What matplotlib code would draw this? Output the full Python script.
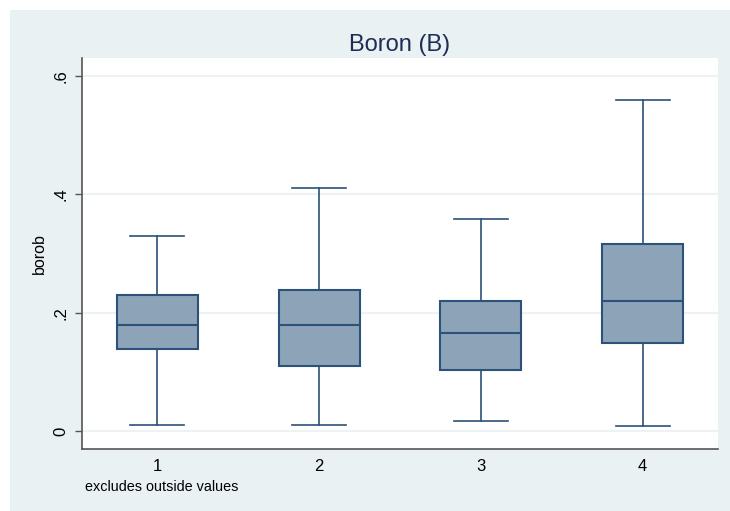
import matplotlib.pyplot as plt
from matplotlib.patches import Rectangle

plt.rcParams['font.family'] = ['Liberation Sans', 'DejaVu Sans']

# boron concentration by group
groups = [1, 2, 3, 4]
whislo = [0.010, 0.010, 0.017, 0.008]
q1 = [0.139, 0.109, 0.103, 0.148]
med = [0.179, 0.179, 0.166, 0.220]
q3 = [0.230, 0.239, 0.220, 0.316]
whishi = [0.330, 0.410, 0.358, 0.560]

stats = [dict(whislo=lo, q1=a, med=m, q3=b, whishi=hi, label=str(g))
         for g, lo, a, m, b, hi in zip(groups, whislo, q1, med, q3, whishi)]

bg = '#eaf1f3'
edge = '#2c5279'
fill = '#8da4b8'

fig = plt.figure(figsize=(7.3, 5.11), dpi=100, facecolor='white')
fig.patches.append(Rectangle((10 / 730, 0), 1, 1 - 10 / 511, transform=fig.transFigure,
                             facecolor=bg, edgecolor='none', zorder=-10))
ax = fig.add_axes([82 / 730, 1 - 449 / 511, (718 - 82) / 730, (449 - 58) / 511])
ax.set_facecolor('white')

ax.bxp(stats, positions=groups, widths=0.5, capwidths=0.333, showfliers=False,
       patch_artist=True,
       boxprops=dict(facecolor=fill, edgecolor=edge, linewidth=1.5),
       medianprops=dict(color=edge, linewidth=1.5),
       whiskerprops=dict(color=edge, linewidth=1.2),
       capprops=dict(color=edge, linewidth=1.2))

ax.set_xlim(0.535, 4.465)
ax.set_ylim(-0.0305, 0.6305)
ax.set_yticks([0, 0.2, 0.4, 0.6])
ax.set_yticklabels(['0', '.2', '.4', '.6'], rotation=90, va='center')
ax.set_xticks(groups)
ax.set_xticklabels([str(g) for g in groups])
ax.tick_params(axis='x', length=0, labelsize=12, pad=7)
ax.tick_params(axis='y', length=5, width=1, color='#555555', labelsize=12, pad=5)
ax.yaxis.grid(True, color='#edf2f4', linewidth=1.5)
ax.set_axisbelow(True)

for s in ['top', 'right']:
    ax.spines[s].set_visible(False)
for s in ['left', 'bottom']:
    ax.spines[s].set_color('#555555')
    ax.spines[s].set_linewidth(1.2)

ax.set_ylabel('borob', fontsize=11.5)
ax.yaxis.set_label_coords(-0.0555, 0.5)
ax.set_title('Boron (B)', fontsize=17, color='#1f2d55', pad=5)
fig.text(85 / 730, 1 - 487 / 511, 'excludes outside values', fontsize=10.4, va='center')

fig.savefig('out.png', dpi=100, facecolor=fig.get_facecolor())
